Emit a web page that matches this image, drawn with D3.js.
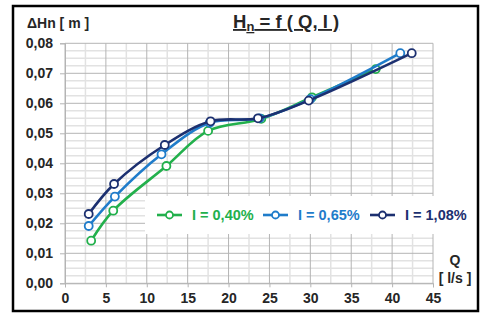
<!DOCTYPE html>
<html>
<head>
<meta charset="utf-8">
<script src="https://cdn.jsdelivr.net/npm/d3@7"></script>
<style>
  body { margin: 0; background: #fff; }
  svg { display: block; font-family: "Liberation Sans", Arial, sans-serif; font-weight: bold; }
</style>
</head>
<body>
<svg id="chart"></svg>
<script>
// data
const seriesNames = ["I = 0,40%", "I = 0,65%", "I = 1,08%"];
const seriesColors = ["#22b04c", "#1f7cca", "#1c3070"];
const q040 = [3.2, 5.9, 12.4, 17.5, 24.0, 30.2, 38.0];
const h040 = [0.0142, 0.0242, 0.0391, 0.0508, 0.0548, 0.0620, 0.0714];
const q065 = [2.9, 6.1, 11.8, 17.7, 23.8, 30.0, 41.0];
const h065 = [0.0191, 0.0289, 0.0430, 0.0535, 0.0550, 0.0614, 0.0767];
const q108 = [2.9, 6.0, 12.2, 17.8, 23.6, 29.8, 42.4];
const h108 = [0.0231, 0.0331, 0.0461, 0.0540, 0.0550, 0.0609, 0.0767];
const xTicks = [0, 5, 10, 15, 20, 25, 30, 35, 40, 45];
const yTicks = [0, 0.01, 0.02, 0.03, 0.04, 0.05, 0.06, 0.07, 0.08];

const width = 481, height = 313;
const svg = d3.select("#chart").attr("width", width).attr("height", height);

const x = d3.scaleLinear().domain([0, 45]).range([65, 433]);
const y = d3.scaleLinear().domain([0, 0.08]).range([283.3, 43.3]);
const fmt = v => d3.format(".2f")(v).replace(".", ",");

// frame
svg.append("rect")
  .attr("x", 13).attr("y", 6).attr("width", 465).attr("height", 305)
  .attr("fill", "#fff").attr("stroke", "#000").attr("stroke-width", 2.5);

// minor grid
const grid = svg.append("g");
grid.selectAll("line.vmin").data(d3.range(2.5, 45, 5)).enter()
  .append("line").attr("class", "vmin")
  .attr("x1", d => x(d)).attr("x2", d => x(d))
  .attr("y1", y(0)).attr("y2", y(0.08))
  .attr("stroke", "#e2e2e2").attr("stroke-width", 1.5);
grid.selectAll("line.hmin").data(d3.range(0, 0.08, 0.0025).filter((d, i) => i % 4 !== 0)).enter()
  .append("line").attr("class", "hmin")
  .attr("x1", x(0)).attr("x2", x(45))
  .attr("y1", d => y(d)).attr("y2", d => y(d))
  .attr("stroke", "#e2e2e2").attr("stroke-width", 1.5);

// major grid
grid.selectAll("line.vmaj").data(xTicks).enter()
  .append("line").attr("class", "vmaj")
  .attr("x1", d => x(d)).attr("x2", d => x(d))
  .attr("y1", y(0)).attr("y2", y(0.08))
  .attr("stroke", "#b4b4b4").attr("stroke-width", 1);
grid.selectAll("line.hmaj").data(yTicks).enter()
  .append("line").attr("class", "hmaj")
  .attr("x1", x(0)).attr("x2", x(45))
  .attr("y1", d => y(d)).attr("y2", d => y(d))
  .attr("stroke", "#b4b4b4").attr("stroke-width", 1);

// axes
const yAxis = svg.append("g").attr("transform", `translate(${x(0)},0)`)
  .call(d3.axisLeft(y).tickValues(yTicks).tickFormat(fmt).tickSize(5).tickPadding(7));
const xAxis = svg.append("g").attr("transform", `translate(0,${y(0)})`)
  .call(d3.axisBottom(x).tickValues(xTicks).tickFormat(d3.format("d")).tickSize(4).tickPadding(6));
[xAxis, yAxis].forEach(a => {
  a.select(".domain").attr("stroke", "#b4b4b4");
  a.selectAll(".tick line").attr("stroke", "#b4b4b4");
  a.selectAll("text").attr("fill", "#262626").style("font-size", "14px")
    .style("font-family", "'Liberation Sans', Arial, sans-serif").style("font-weight", "bold");
});

// series
const series = [
  { name: seriesNames[0], color: seriesColors[0], q: q040, h: h040 },
  { name: seriesNames[1], color: seriesColors[1], q: q065, h: h065 },
  { name: seriesNames[2], color: seriesColors[2], q: q108, h: h108 },
];
const line = d3.line().x(d => x(d[0])).y(d => y(d[1])).curve(d3.curveCatmullRom.alpha(0.5));

series.forEach(s => {
  const pts = s.q.map((q, i) => [q, s.h[i]]);
  const g = svg.append("g");
  g.append("path").datum(pts)
    .attr("d", line).attr("fill", "none")
    .attr("stroke", s.color).attr("stroke-width", 2.6);
  g.selectAll("circle").data(pts).enter().append("circle")
    .attr("cx", d => x(d[0])).attr("cy", d => y(d[1])).attr("r", 4)
    .attr("fill", "#fff").attr("stroke", s.color).attr("stroke-width", 1.8);
});

// legend
const legend = svg.append("g");
legend.append("rect").attr("x", 145).attr("y", 196).attr("width", 331).attr("height", 38).attr("fill", "#fff");
const legX = [157, 263, 370];
series.forEach((s, i) => {
  const gx = legX[i], gy = 215;
  legend.append("line").attr("x1", gx).attr("x2", gx + 25).attr("y1", gy).attr("y2", gy)
    .attr("stroke", s.color).attr("stroke-width", 2.6);
  legend.append("circle").attr("cx", gx + 12.5).attr("cy", gy).attr("r", 3.5)
    .attr("fill", "#fff").attr("stroke", s.color).attr("stroke-width", 1.8);
  legend.append("text").attr("x", gx + 35).attr("y", gy).attr("dy", "0.35em")
    .attr("fill", s.color).style("font-size", "14.5px").text(s.name);
});

// labels
svg.append("text").attr("x", 27).attr("y", 28).attr("fill", "#262626")
  .style("font-size", "14px").text("ΔHn [ m ]");
svg.append("text").attr("x", 455).attr("y", 265).attr("text-anchor", "middle")
  .attr("fill", "#262626").style("font-size", "14px").text("Q");
svg.append("text").attr("x", 455).attr("y", 283).attr("text-anchor", "middle")
  .attr("fill", "#262626").style("font-size", "14px").text("[ l/s ]");

const title = svg.append("text").attr("x", 233).attr("y", 28).attr("fill", "#262626")
  .style("font-size", "18.5px").style("text-decoration", "underline");
title.append("tspan").text("H");
title.append("tspan").attr("dy", 3).style("font-size", "13px").text("n");
title.append("tspan").attr("dy", -3).text(" = f ( Q, I )");
</script>
</body>
</html>
